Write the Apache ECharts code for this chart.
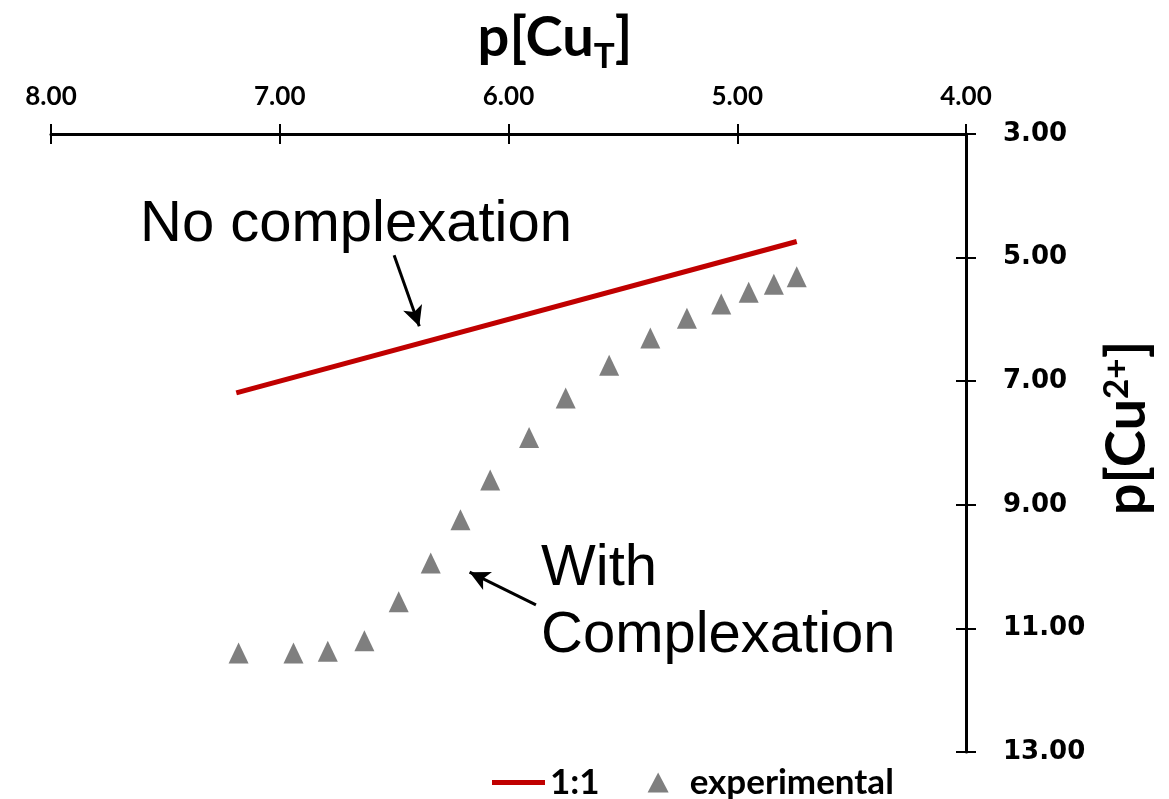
<!DOCTYPE html>
<html>
<head>
<meta charset="utf-8">
<script src="https://cdn.jsdelivr.net/npm/echarts@6/dist/echarts.min.js"></script>
<style>
html,body{margin:0;padding:0;background:#fff;}
#chart{width:1169px;height:799px;}
</style>
</head>
<body>
<div id="chart"></div>
<script>
// ---- data ----
var xTicks = [4, 5, 6, 7, 8];
var yTicks = [3, 5, 7, 9, 11, 13];
var oneToOne = [[7.19, 7.19], [4.74, 4.74]];
var expX = [7.18, 6.94, 6.79, 6.63, 6.48, 6.34, 6.21, 6.08, 5.91, 5.75, 5.56, 5.38, 5.22, 5.07, 4.95, 4.84, 4.74];
var expY = [11.40, 11.40, 11.37, 11.20, 10.57, 9.94, 9.24, 8.60, 7.91, 7.27, 6.74, 6.30, 5.98, 5.75, 5.56, 5.43, 5.31];
var arrowNo = [[6.50, 4.96], [6.39, 6.11]];
var arrowWith = [[5.88, 10.62], [6.17, 10.09]];
var seriesNames = ['1:1', 'experimental'];

var expData = expX.map(function (x, i) { return [x, expY[i]]; });

var chart = echarts.init(document.getElementById('chart'), null, {renderer: 'canvas'});

function fmt(v) { return Number(v).toFixed(2); }

var axisLineStyle = {color: '#000', width: 3};
var tickStyle = {color: '#000', width: 2};

var option = {
  animation: false,
  backgroundColor: '#fff',
  grid: {left: 51, right: 203, top: 134, bottom: 47, containLabel: false},
  xAxis: [{
    type: 'value', position: 'top', min: 4, max: 8, interval: 1, inverse: true,
    axisLine: {show: true, lineStyle: axisLineStyle},
    axisTick: {show: true, length: 10, lineStyle: tickStyle, customValues: xTicks},
    axisLabel: {show: true, margin: 24, formatter: fmt, color: '#000', fontFamily: 'Lato', fontWeight: 'bold', fontSize: 26, customValues: xTicks},
    splitLine: {show: false}
  }, {
    type: 'value', position: 'top', min: 4, max: 8, interval: 1, inverse: true,
    axisLine: {show: false},
    axisTick: {show: true, inside: true, length: 10, lineStyle: tickStyle, customValues: xTicks},
    axisLabel: {show: false},
    splitLine: {show: false}
  }],
  yAxis: [{
    type: 'value', position: 'right', min: 3, max: 13, inverse: true,
    axisLine: {show: true, lineStyle: axisLineStyle},
    axisTick: {show: true, length: 10, lineStyle: tickStyle, customValues: yTicks},
    axisLabel: {show: true, margin: 37, formatter: fmt, color: '#000', fontFamily: 'DejaVu Sans', fontWeight: 'bold', fontSize: 26, customValues: yTicks},
    splitLine: {show: false}
  }, {
    type: 'value', position: 'right', min: 3, max: 13, inverse: true,
    axisLine: {show: false},
    axisTick: {show: true, inside: true, length: 10, lineStyle: tickStyle, customValues: yTicks},
    axisLabel: {show: false},
    splitLine: {show: false}
  }],
  legend: {
    data: [
      {name: seriesNames[0], icon: 'path://M0,0 L53,0 L53,5 L0,5 Z'},
      {name: seriesNames[1], icon: 'path://M10,0 L20,19 L0,19 Z'}
    ],
    left: 487, top: 760,
    itemWidth: 53, itemHeight: 20, itemGap: 48,
    symbolKeepAspect: true,
    textStyle: {color: '#000', fontFamily: 'Lato', fontWeight: 'bold', fontSize: 35}
  },
  series: [{
    name: seriesNames[0], type: 'line', data: oneToOne,
    showSymbol: false, symbol: 'none',
    lineStyle: {color: '#C00000', width: 5},
    itemStyle: {color: '#C00000'}
  }, {
    name: seriesNames[1], type: 'scatter', data: expData,
    symbol: 'triangle', symbolSize: [20, 21],
    itemStyle: {color: '#7F7F7F', opacity: 1}
  }, {
    name: 'annotations', type: 'line', data: [],
    markLine: {
      silent: true,
      symbol: ['none', 'arrow'], symbolSize: [15, 20],
      lineStyle: {color: '#000', width: 3, type: 'solid'},
      itemStyle: {color: '#000'},
      label: {show: false},
      data: [
        [{coord: arrowNo[0]}, {coord: arrowNo[1]}],
        [{coord: arrowWith[0]}, {coord: arrowWith[1]}]
      ]
    }
  }],
  graphic: [{
    type: 'text', left: 140, top: 196,
    style: {text: 'No complexation', fontFamily: 'Liberation Sans', fontSize: 58, fill: '#000'}
  }, {
    type: 'text', left: 541, top: 535,
    style: {text: 'With\nComplexation', fontFamily: 'Liberation Sans', fontSize: 58, lineHeight: 67, fill: '#000'}
  }, {
    type: 'text', x: 555, y: 35,
    style: {
      text: '{a|p[Cu}{s|T}{a|]}',
      align: 'center', verticalAlign: 'middle',
      rich: {
        a: {fontFamily: 'Lato', fontWeight: 'bold', fontSize: 56, lineHeight: 62, fill: '#000', verticalAlign: 'bottom'},
        s: {fontFamily: 'Lato', fontWeight: 'bold', fontSize: 35, lineHeight: 30, fill: '#000', verticalAlign: 'bottom', padding: [0, 0, -8, 0]}
      }
    }
  }, {
    type: 'text', x: 1124, y: 428, rotation: Math.PI / 2,
    style: {
      text: '{a|p[Cu}{s|2+}{a|]}',
      align: 'center', verticalAlign: 'middle',
      rich: {
        a: {fontFamily: 'Lato', fontWeight: 'bold', fontSize: 56, lineHeight: 62, fill: '#000', verticalAlign: 'bottom'},
        s: {fontFamily: 'Lato', fontWeight: 'bold', fontSize: 35, lineHeight: 30, fill: '#000', verticalAlign: 'top', padding: [6, 0, 0, 0]}
      }
    }
  }]
};
chart.setOption(option);
</script>
</body>
</html>
